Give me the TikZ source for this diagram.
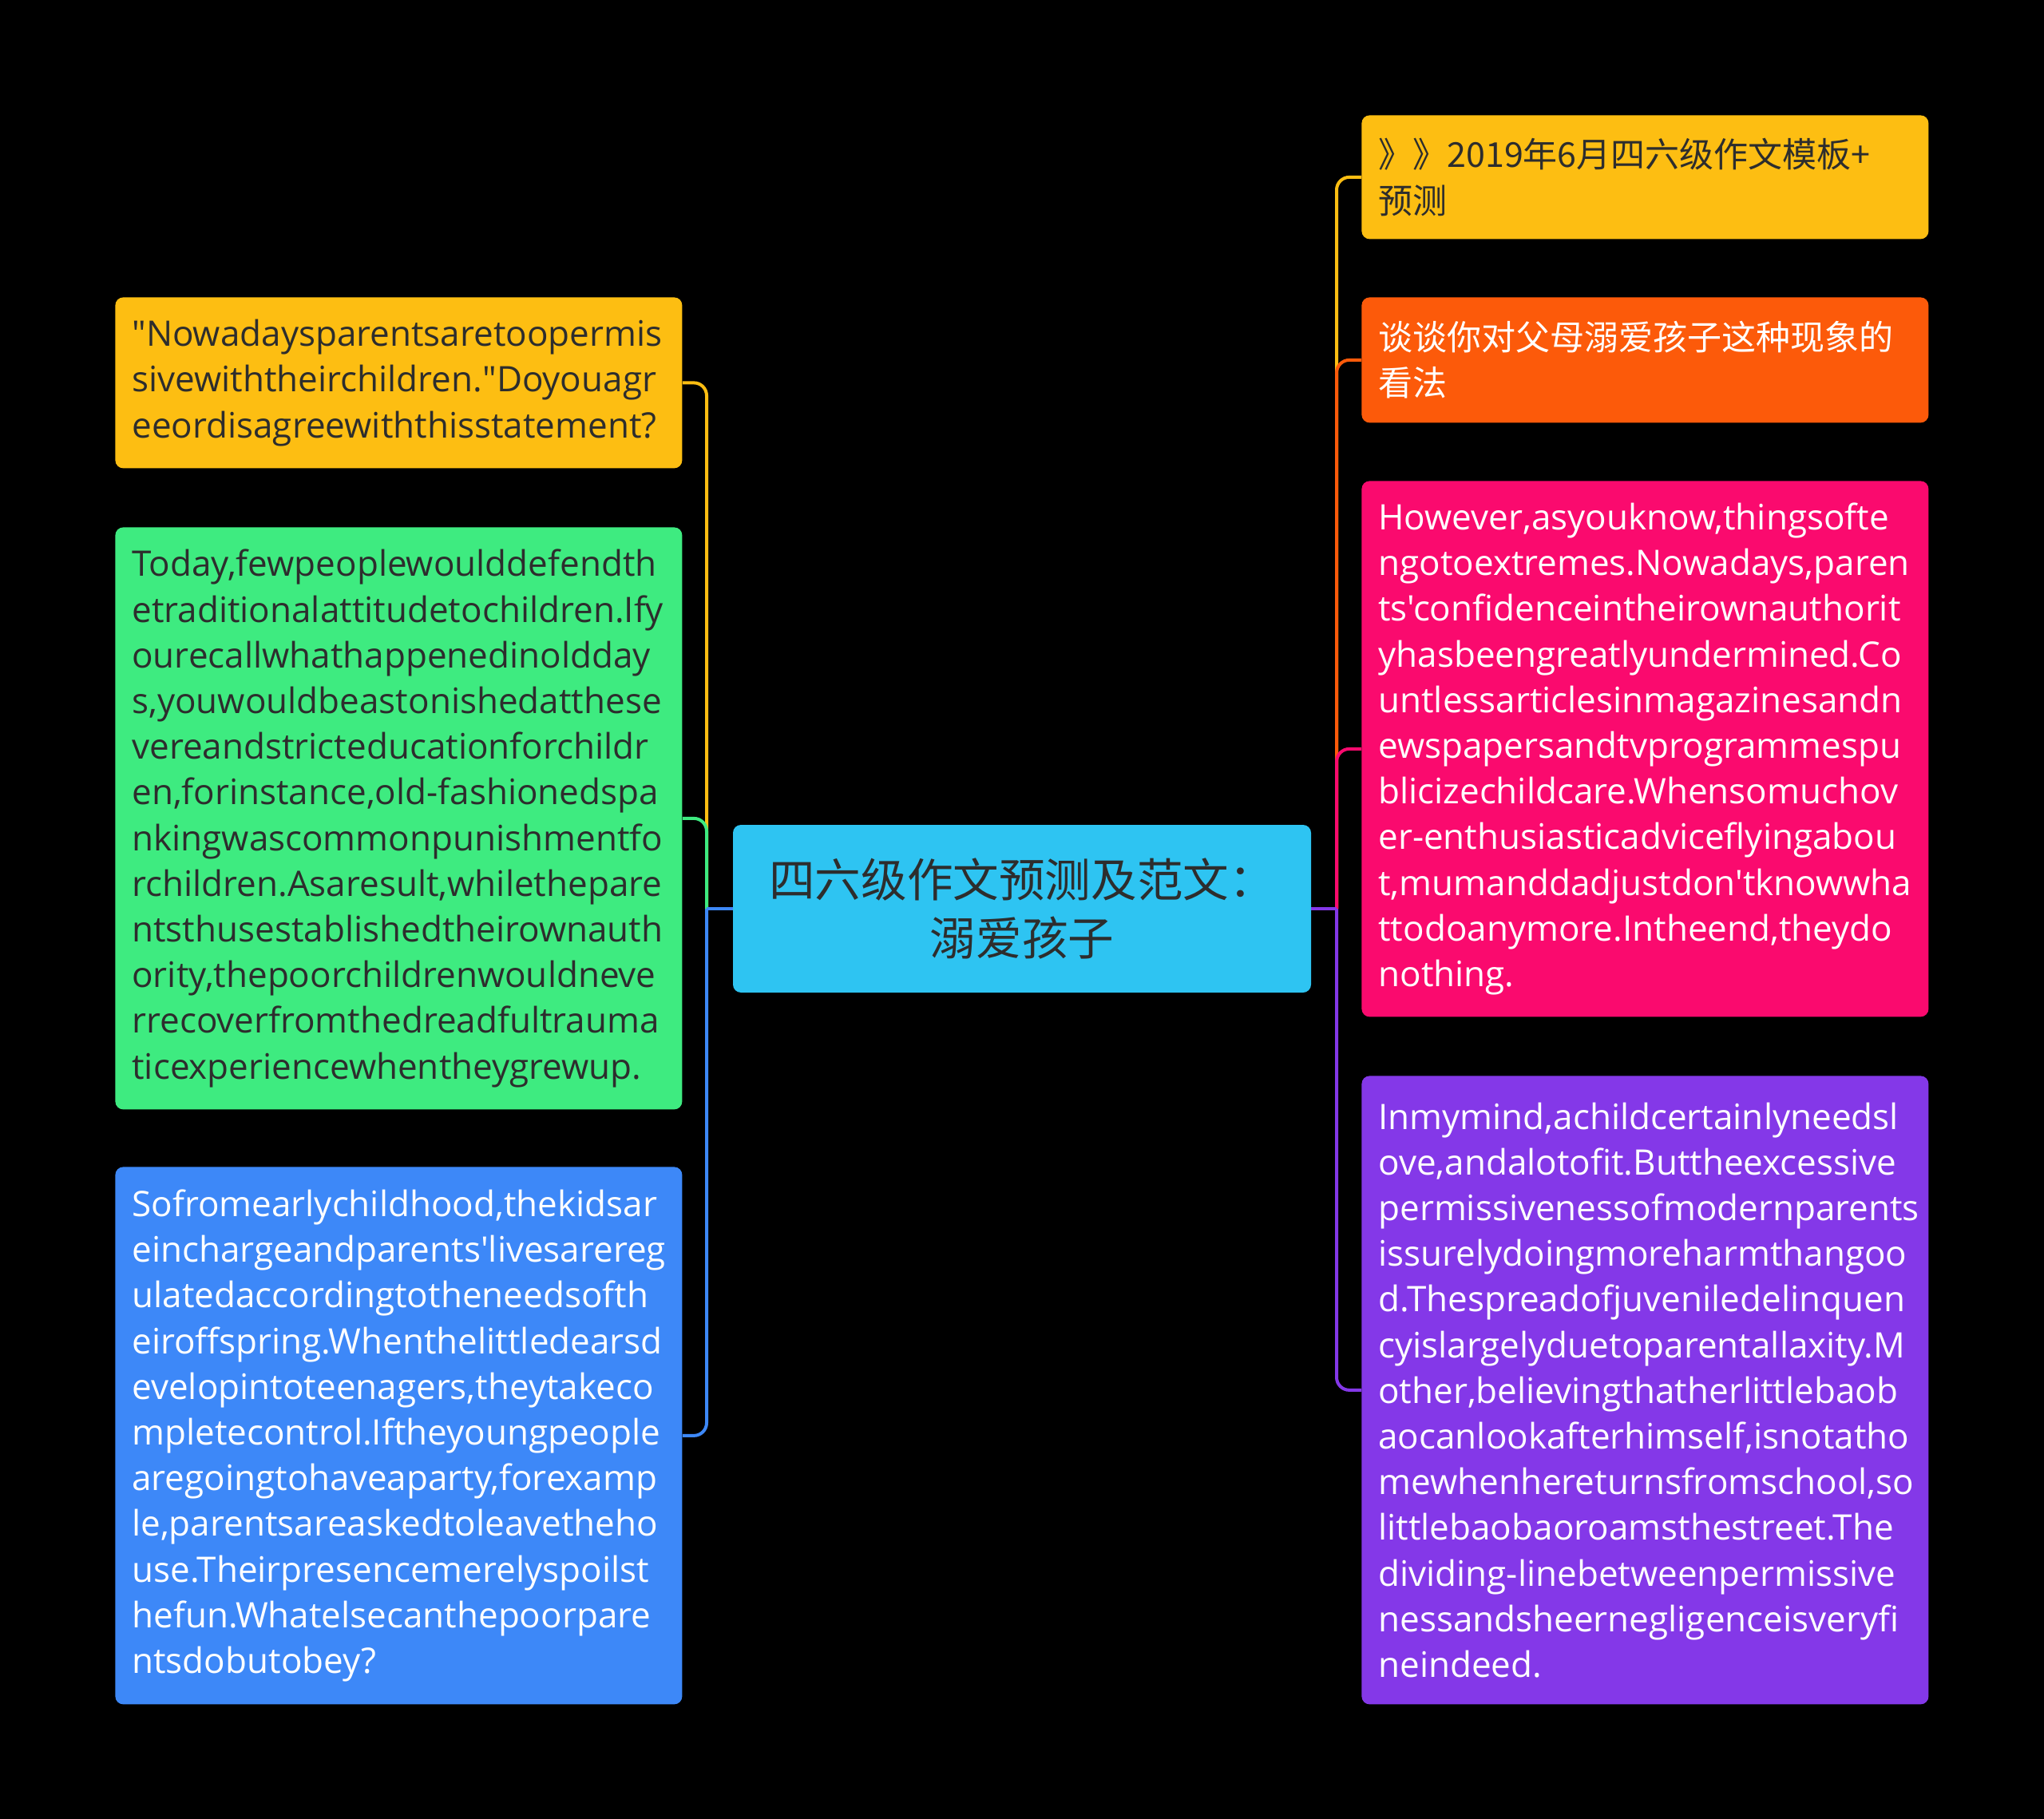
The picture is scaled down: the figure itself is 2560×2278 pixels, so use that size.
\documentclass[tikz,border=0pt]{standalone}
\usepackage{fontspec}
\setmainfont{Open Sans}[Ligatures=TeXOff]
\newfontfamily\cjk{Noto Sans CJK SC}
\definecolor{topicyellow}{RGB}{253,190,18}
\definecolor{topicgreen}{RGB}{62,235,128}
\definecolor{topicblue}{RGB}{61,136,248}
\definecolor{rootcyan}{RGB}{46,196,242}
\definecolor{topicorange}{RGB}{252,90,10}
\definecolor{topicpink}{RGB}{250,10,110}
\definecolor{topicpurple}{RGB}{132,56,232}
\definecolor{inkdark}{RGB}{45,45,45}
\hyphenpenalty=10000
\exhyphenpenalty=10000
\tikzset{
  leaf/.style={rounded corners=5pt, anchor=north west, align=left, text width=334pt,
    inner xsep=10.5pt, inner ysep=0pt, font=\fontsize{22}{28.6}\selectfont},
  cjkleaf/.style={leaf, font=\cjk\fontsize{21.5}{28.6}\selectfont},
  link/.style={line width=2pt, rounded corners=8pt},
}

\begin{document}
\begin{tikzpicture}[x=0.5pt,y=-0.5pt]
  \fill[black] (0,0) rectangle (2560,2278);
  % central topic
  \node[fill=rootcyan, text=inkdark, rounded corners=5pt, minimum width=362pt, minimum height=105pt,
    align=center, font=\cjk\fontsize{28.8}{36.5}\selectfont] (root) at (1280,1138) {四六级作文预测及范文：\\溺爱孩子};
  \coordinate (lbus) at (885,1138);
  \coordinate (rbus) at (1674,1138);
  % left branch
  \node[leaf, fill=topicyellow, text=inkdark, minimum height=107pt] (question) at (144,372)
    {"Nowadaysparentsaretoopermis\\sivewiththeirchildren."Doyouagr\\eeordisagreewiththisstatement?};
  \node[leaf, fill=topicgreen, text=inkdark, minimum height=364.5pt] (today) at (144,660)
    {Today,fewpeoplewoulddefendth\\etraditionalattitudetochildren.Ify\\ourecallwhathappenedinoldday\\s,youwouldbeastonishedatthese\\vereandstricteducationforchildr\\en,forinstance,old-fashionedspa\\nkingwascommonpunishmentfo\\rchildren.Asaresult,whilethepare\\ntsthusestablishedtheirownauth\\ority,thepoorchildrenwouldneve\\rrecoverfromthedreadfultrauma\\ticexperiencewhentheygrewup.};
  \node[leaf, fill=topicblue, text=white, minimum height=336.5pt] (sofrom) at (144,1461)
    {Sofromearlychildhood,thekidsar\\einchargeandparents'livesarereg\\ulatedaccordingtotheneedsofth\\eiroffspring.Whenthelittledearsd\\evelopintoteenagers,theytakeco\\mpletecontrol.Iftheyoungpeople\\aregoingtohaveaparty,forexamp\\le,parentsareaskedtoleavetheho\\use.Theirpresencemerelyspoilst\\hefun.Whatelsecanthepoorpare\\ntsdobutobey?};
  % right branch
  \node[cjkleaf, fill=topicyellow, text=inkdark, minimum height=77.5pt] (template) at (1705,144)
    {》》2019年6月四六级作文模板+\\预测};
  \node[cjkleaf, fill=topicorange, text=white, minimum height=78.5pt] (topic) at (1705,372)
    {谈谈你对父母溺爱孩子这种现象的\\看法};
  \node[leaf, fill=topicpink, text=white, minimum height=335.5pt] (however) at (1705,602)
    {However,asyouknow,thingsofte\\ngotoextremes.Nowadays,paren\\ts'confidenceintheirownauthorit\\yhasbeengreatlyundermined.Co\\untlessarticlesinmagazinesandn\\ewspapersandtvprogrammespu\\blicizechildcare.Whensomuchov\\er-enthusiasticadviceflyingabou\\t,mumanddadjustdon'tknowwha\\ttodoanymore.Intheend,theydo\\nothing.};
  \node[leaf, fill=topicpurple, text=white, minimum height=393.5pt] (mymind) at (1705,1347)
    {Inmymind,achildcertainlyneedsl\\ove,andalotofit.Buttheexcessive\\permissivenessofmodernparents\\issurelydoingmoreharmthangoo\\d.Thespreadofjuveniledelinquen\\cyislargelyduetoparentallaxity.M\\other,believingthatherlittlebaob\\aocanlookafterhimself,isnotatho\\mewhenhereturnsfromschool,so\\littlebaobaoroamsthestreet.The\\dividing-linebetweenpermissive\\nessandsheernegligenceisveryfi\\neindeed.};
  % connectors
  \draw[link, topicyellow] (lbus) |- (question.east);
  \draw[link, topicgreen] (lbus) |- (today.east);
  \draw[link, topicblue] (lbus) |- (sofrom.east);
  \draw[link, topicblue] (root.west) -- (lbus);
  \draw[link, topicyellow] (rbus) |- (template.west);
  \draw[link, topicorange] (rbus) |- (topic.west);
  \draw[link, topicpink] (rbus) |- (however.west);
  \draw[link, topicpurple] (rbus) |- (mymind.west);
  \draw[link, topicpurple] (root.east) -- (rbus);
\end{tikzpicture}
\end{document}
